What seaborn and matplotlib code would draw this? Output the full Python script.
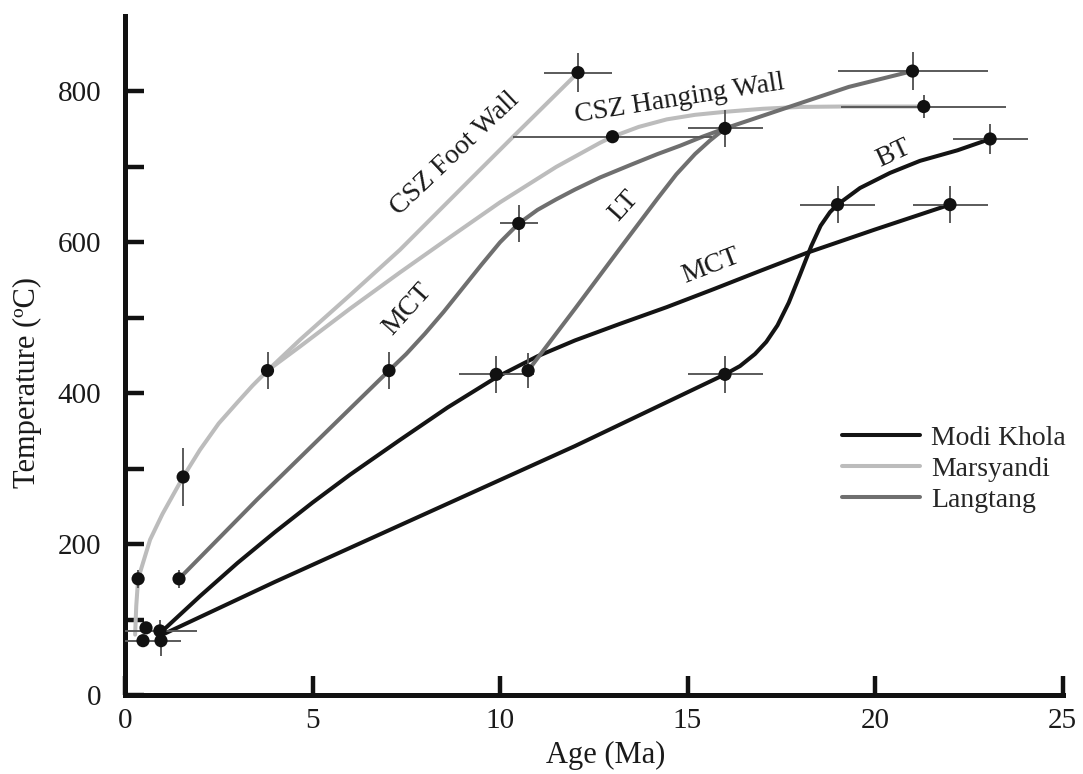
import pandas as pd
import numpy as np
import matplotlib
matplotlib.use('Agg')
import matplotlib.pyplot as plt
import seaborn as sns

# ---- curve traces (age Ma, temperature C) ----
modi_mct_age = [1.0, 2.0, 3.0, 4.0, 5.0, 6.0, 7.33, 8.6, 9.9, 11.0, 12.0, 13.2, 14.44, 15.7,
                16.93, 18.18, 20.0, 22.0]
modi_mct_temp = [85, 131, 175, 216, 255, 292, 338, 381, 421, 449, 470, 492, 514, 538,
                 562, 586, 617, 650]

modi_bt_age = [1.0, 4.0, 8.0, 12.0, 16.0, 16.4, 16.8, 17.1, 17.4, 17.7, 18.0, 18.3, 18.55, 18.8,
               19.0, 19.6, 20.4, 21.2, 22.2, 23.07]
modi_bt_temp = [80, 150, 240, 330, 425, 436, 452, 468, 490, 520, 557, 595, 622, 640,
                650, 672, 692, 708, 722, 737]

mars_fw_age = [0.27, 0.3, 0.35, 0.67, 1.0, 1.55, 2.0, 2.5, 3.0, 3.4, 3.8, 4.67, 6.0, 7.33, 9.12,
               10.35, 12.08]
mars_fw_temp = [80, 118, 154, 206, 240, 289, 325, 360, 388, 410, 430, 471, 530, 590, 679,
                740, 825]

mars_hw_age = [3.8, 4.67, 6.0, 7.33, 8.7, 10.0, 11.5, 12.67, 13.0, 13.7, 14.45, 15.2, 16.0, 17.0,
               18.0, 19.07, 21.3]
mars_hw_temp = [430, 462, 512, 560, 608, 653, 700, 732, 740, 753, 763, 769, 773, 777,
                779.5, 780, 780]

lang_mct_age = [1.44, 3.52, 7.04, 7.5, 8.0, 8.5, 9.0, 9.5, 10.0, 10.5, 11.0, 11.5, 12.0, 12.67,
                13.5, 14.2, 14.8, 15.4, 16.0, 17.5, 19.3, 21.0]
lang_mct_temp = [154, 259, 430, 452, 479, 508, 539, 570, 600, 625, 643, 657, 670, 686,
                 703, 717, 728, 740, 751, 776, 806, 827]

lang_lt_age = [10.75, 12.0, 13.2, 14.2, 14.7, 15.2, 15.6, 16.0]
lang_lt_temp = [430, 512, 592, 658, 690, 717, 735, 751]

# ---- data points with error bars ----
modi_pts_age = [0.56, 0.93, 0.48, 0.96, 9.9, 16.0, 19.0, 22.0, 23.07]
modi_pts_temp = [89, 85, 72, 72, 425, 425, 650, 650, 737]
modi_pts_xerr = [0, 1.0, 1.0, 0, 1.0, 1.0, 1.0, 1.0, 1.0]
modi_pts_yerr = [0, 15, 0, 20, 25, 25, 25, 25, 20]

mars_pts_age = [0.35, 1.55, 3.8, 12.08, 13.0, 21.3]
mars_pts_temp = [154, 289, 430, 825, 740, 780]
mars_pts_xerr = [0, 0, 0, 0.9, 2.65, 2.2]
mars_pts_yerr = [12, 38, 25, 26, 0, 15]

lang_pts_age = [1.44, 7.04, 10.5, 10.75, 16.0, 21.0]
lang_pts_temp = [154, 430, 625, 430, 751, 827]
lang_pts_xerr = [0, 0, 0.5, 0, 1.0, 2.0]
lang_pts_yerr = [12, 25, 25, 23, 25, 25]

regions = ['Modi Khola', 'Marsyandi', 'Langtang']
colors = {'Modi Khola': '#141414', 'Marsyandi': '#bcbcbc', 'Langtang': '#6f6f6f'}

# labels on the curves: text, age, temp, screen rotation
curve_labels = [
    ('CSZ Foot Wall', 8.8, 717, 43.5),
    ('CSZ Hanging Wall', 14.8, 790, 9),
    ('MCT', 7.52, 511, 48),
    ('LT', 13.31, 648, 48),
    ('MCT', 15.63, 569, 21),
    ('BT', 20.48, 717, 25),
]

# build long tables for seaborn
segs = [
    ('Modi Khola', 'modi_mct', modi_mct_age, modi_mct_temp),
    ('Modi Khola', 'modi_bt', modi_bt_age, modi_bt_temp),
    ('Marsyandi', 'mars_fw', mars_fw_age, mars_fw_temp),
    ('Marsyandi', 'mars_hw', mars_hw_age, mars_hw_temp),
    ('Langtang', 'lang_mct', lang_mct_age, lang_mct_temp),
    ('Langtang', 'lang_lt', lang_lt_age, lang_lt_temp),
]
lines = pd.concat([pd.DataFrame({'age': a, 'temp': t, 'region': r, 'segment': s})
                   for r, s, a, t in segs], ignore_index=True)

points = pd.concat([
    pd.DataFrame({'age': modi_pts_age, 'temp': modi_pts_temp, 'xerr': modi_pts_xerr, 'yerr': modi_pts_yerr}),
    pd.DataFrame({'age': mars_pts_age, 'temp': mars_pts_temp, 'xerr': mars_pts_xerr, 'yerr': mars_pts_yerr}),
    pd.DataFrame({'age': lang_pts_age, 'temp': lang_pts_temp, 'xerr': lang_pts_xerr, 'yerr': lang_pts_yerr}),
], ignore_index=True)

sns.set_style('ticks')
plt.rcParams['font.family'] = ['Liberation Serif', 'DejaVu Serif']

fig = plt.figure(figsize=(10.83, 7.74), dpi=100)
ax = fig.add_axes([125 / 1083, 79 / 774, 937.5 / 1083, 679 / 774])

sns.lineplot(data=lines, x='age', y='temp', hue='region', hue_order=regions, palette=colors,
             units='segment', estimator=None, sort=False, linewidth=2.9, ax=ax, zorder=2)
for ln in ax.get_lines():
    ln.set_solid_joinstyle('round')

ax.errorbar(points['age'], points['temp'], xerr=points['xerr'], yerr=points['yerr'],
            fmt='none', ecolor='#5a5a5a', elinewidth=1.4, capsize=0, zorder=3)
sns.scatterplot(data=points, x='age', y='temp', color='#111111', s=90, edgecolor='none',
                legend=False, ax=ax, zorder=4, clip_on=False)

for txt, xa, ya, rot in curve_labels:
    ax.text(xa, ya, txt, rotation=rot, rotation_mode='anchor', ha='center', va='center',
            fontsize=20, color='#1a1a1a')

ax.set_xlim(0, 25)
ax.set_ylim(0, 900)
ax.set_xticks([0, 5, 10, 15, 20, 25])
ax.set_yticks([0, 200, 400, 600, 800])
ax.set_yticks([100, 300, 500, 700], minor=True)
ax.tick_params(which='both', direction='in', length=14, width=3.2, color='#111111',
               labelsize=21, labelcolor='#1a1a1a')
ax.tick_params(axis='y', pad=17)
ax.tick_params(axis='x', pad=9)

for side in ['top', 'right']:
    ax.spines[side].set_visible(False)
for side in ['left', 'bottom']:
    ax.spines[side].set_linewidth(3.6)
    ax.spines[side].set_color('#111111')

ax.set_xlabel('Age (Ma)', fontsize=22, color='#1a1a1a')
ax.xaxis.set_label_coords((606 - 125) / 937.5, -0.068)
ax.set_ylabel('Temperature (ºC)', fontsize=22, color='#1a1a1a')
ax.yaxis.set_label_coords(-(125 - 42) / 937.5, (695 - 382) / 679)

handles, labels = ax.get_legend_handles_labels()
leg = ax.legend(handles, labels, loc='center left', frameon=False,
                bbox_to_anchor=(842 / 1083, 1 - 469 / 774), bbox_transform=fig.transFigure,
                borderpad=0, borderaxespad=0, handlelength=2.8, handletextpad=0.4,
                labelspacing=0.2, fontsize=20)
for h in leg.get_lines():
    h.set_linewidth(2.9)

fig.savefig('out.png', dpi=100)
